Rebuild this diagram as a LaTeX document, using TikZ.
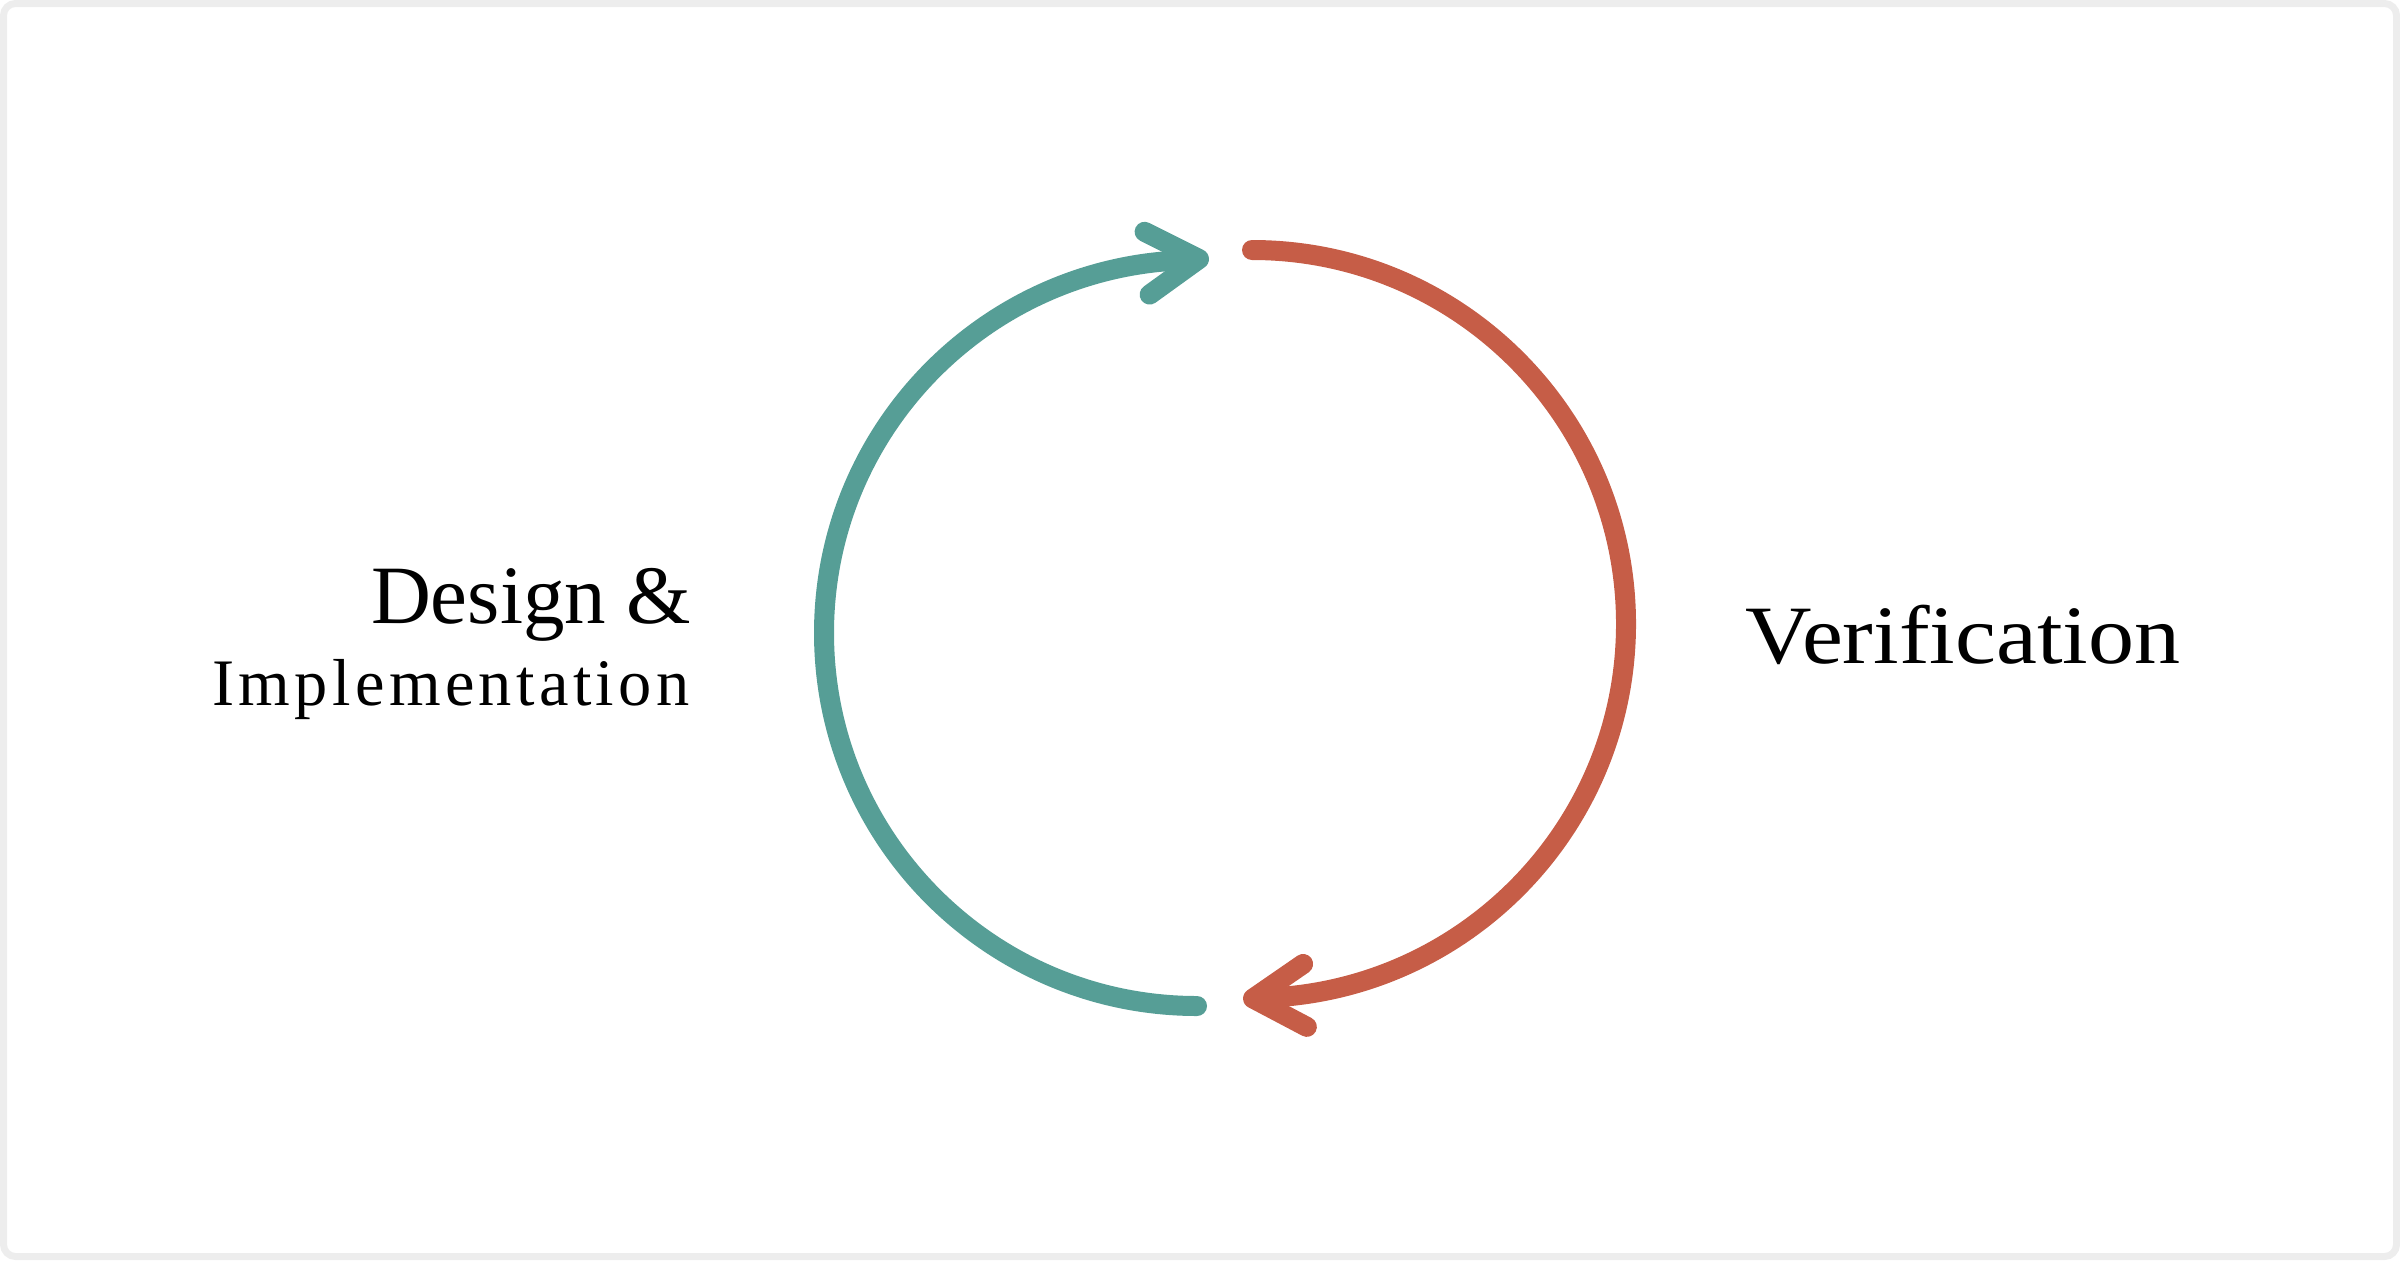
\documentclass[tikz,border=0pt]{standalone}
\usepackage{fontspec}
\setmainfont{Liberation Serif}
\newfontfamily\verifont[FakeStretch=1.11]{Liberation Serif}
\newfontfamily\implfont[LetterSpace=6.5]{Liberation Serif}
\usepackage{xcolor}
\usepackage{tikz}
\usetikzlibrary{arrows.meta,calc}

\definecolor{framegray}{HTML}{EDEDED}
\definecolor{tealarc}{HTML}{569E96}
\definecolor{redarc}{HTML}{C65D47}

\begin{document}
\begin{tikzpicture}[>=Latex]
\tikzstyle{arcline}=[line width=2mm, line cap=round, line join=round,
                     -{Straight Barb[round, length=5.2mm, width=6.3mm]}]
\tikzstyle{lbl}=[inner sep=0pt, text=black]

\useasboundingbox (0,0) rectangle (24,12.6);
\draw[framegray, line width=0.7mm, rounded corners=1.2mm]
  (0.035,0.035) rectangle (23.965,12.565);

% centres of the two half circles
\coordinate (cteal) at (11.97,6.27);
\coordinate (cred) at (12.52,6.36);
\coordinate (tealstart) at ($(cteal)+(0,-3.73)$);
\coordinate (redstart) at ($(cred)+(0,3.74)$);

\draw[arcline, tealarc] (tealstart) arc[start angle=270, end angle=92, radius=3.73]
  -- ++(4.6:0.25);
\draw[arcline, redarc] (redstart) arc[start angle=90, end angle=-88, radius=3.74]
  -- ++(183.4:0.22);

\node[lbl, anchor=base east] (design) at (6.92,6.37)
  {\fontsize{23.6}{28}\selectfont Design \&};
\node[lbl, anchor=base east] (impl) at (6.90,5.55)
  {\implfont\fontsize{18.9}{22}\selectfont Implementation};
\node[lbl, anchor=base west] (verif) at (17.45,5.97)
  {\verifont\fontsize{23.6}{28}\selectfont Verification};

\end{tikzpicture}
\end{document}
